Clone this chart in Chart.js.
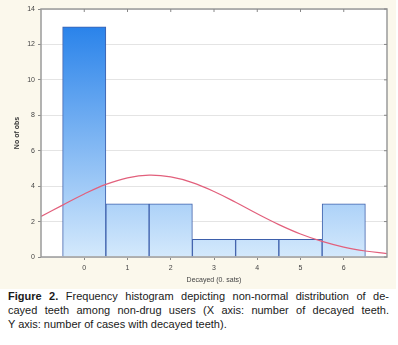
<!DOCTYPE html>
<html>
<head>
<meta charset="utf-8">
<script src="https://cdn.jsdelivr.net/npm/chart.js@4/dist/chart.umd.min.js"></script>
<style>
  body { margin: 0; background: #fff; font-family: "Liberation Sans", Arial, sans-serif; }
  #panel { position: absolute; left: 0; top: 0; width: 396px; height: 289px; background: #fbf8ec; }
  #cap { position: absolute; left: 8px; top: 289px; width: 381px; font-size: 11px; line-height: 14px; color: #1a1a1a; }
  #cap div { text-align: justify; text-align-last: justify; white-space: nowrap; }
  #cap div.last { text-align-last: left; }
</style>
</head>
<body>
<div id="panel"><canvas id="c" width="396" height="289"></canvas></div>
<div id="cap">
  <div><b>Figure 2.</b> Frequency histogram depicting non-normal distribution of de-</div>
  <div>cayed teeth among non-drug users (X axis: number of decayed teeth.</div>
  <div class="last">Y axis: number of cases with decayed teeth).</div>
</div>
<script>
const decayed = [0, 1, 2, 3, 4, 5, 6];
const counts = [13, 3, 3, 1, 1, 1, 3];
// fitted normal curve
const curveX = [-1, -0.5, 0, 0.5, 1, 1.5, 2, 2.5, 3, 3.5, 4, 4.5, 5, 5.5, 6, 6.5, 7];
const curveY = [2.29, 2.93, 3.56, 4.1, 4.47, 4.62, 4.52, 4.2, 3.7, 3.09, 2.44, 1.83, 1.3, 0.88, 0.56, 0.34, 0.19];
const yTicks = [0, 2, 4, 6, 8, 10, 12, 14];

const plotBg = {
    id: 'plotBg',
    beforeDraw(chart) {
        const {ctx, chartArea: a} = chart;
        ctx.save();
        ctx.fillStyle = '#ffffff';
        ctx.fillRect(a.left, a.top, a.right - a.left, a.bottom - a.top);
        ctx.restore();
    },
    afterDraw(chart) {
        const {ctx, chartArea: a, scales} = chart;
        ctx.save();
        ctx.strokeStyle = '#9a9a9a';
        ctx.lineWidth = 1.5;
        ctx.strokeRect(a.left, a.top, a.right - a.left, a.bottom - a.top);
        // mirrored tick marks on top and right
        ctx.lineWidth = 1;
        ctx.strokeStyle = '#888';
        ctx.beginPath();
        decayed.forEach(v => {
            const x = scales.x.getPixelForValue(v);
            ctx.moveTo(x, a.top); ctx.lineTo(x, a.top + 3);
        });
        yTicks.forEach(v => {
            const y = scales.y.getPixelForValue(v);
            ctx.moveTo(a.right, y); ctx.lineTo(a.right - 3, y);
        });
        ctx.stroke();
        ctx.restore();
    }
};

function barGradient(ctx) {
    const chart = ctx.chart;
    if (!chart.chartArea) return '#7fb8f2';
    const y = chart.scales.y;
    const g = chart.ctx.createLinearGradient(0, y.getPixelForValue(13), 0, y.getPixelForValue(0));
    g.addColorStop(0, '#2a83ea');
    g.addColorStop(1, '#d4e9fc');
    return g;
}

new Chart(document.getElementById('c'), {
    data: {
        datasets: [
            {
                type: 'line',
                data: curveX.map((x, i) => ({x, y: curveY[i]})),
                borderColor: '#e2607c',
                borderWidth: 1.2,
                pointRadius: 0,
                tension: 0.4,
                order: 0
            },
            {
                type: 'bar',
                data: decayed.map((x, i) => ({x, y: counts[i]})),
                backgroundColor: barGradient,
                borderColor: '#3d5fab',
                borderWidth: 1,
                barPercentage: 1,
                categoryPercentage: 1,
                order: 1
            }
        ]
    },
    options: {
        responsive: false,
        animation: false,
        layout: { padding: { top: 9, right: 9, left: 0, bottom: 0 } },
        plugins: { legend: { display: false }, tooltip: { enabled: false } },
        scales: {
            x: {
                type: 'linear', min: -1, max: 7, offset: false,
                afterBuildTicks: s => { s.ticks = decayed.map(v => ({value: v})); },
                afterFit: s => { s.height = 32; },
                grid: { drawOnChartArea: false, tickLength: 3, color: '#888', offset: false },
                border: { display: false },
                ticks: { font: { size: 7, family: 'Liberation Sans' }, color: '#444', padding: 4 },
                title: { display: true, text: 'Decayed (0. sats)', font: { size: 7, family: 'Liberation Sans' }, color: '#444', padding: { top: 0, bottom: 5 } }
            },
            y: {
                min: 0, max: 14,
                afterBuildTicks: s => { s.ticks = yTicks.map(v => ({value: v})); },
                afterFit: s => { s.width = 41; },
                grid: { color: '#e4e4e4', tickLength: 3, tickColor: '#888' },
                border: { display: false },
                ticks: { font: { size: 7, family: 'Liberation Sans' }, color: '#444', padding: 3 },
                title: { display: true, text: 'No of obs', font: { size: 7, family: 'Liberation Sans', weight: 'bold' }, color: '#333', padding: { top: 13, bottom: 0 } }
            }
        }
    },
    plugins: [plotBg]
});
</script>
</body>
</html>
